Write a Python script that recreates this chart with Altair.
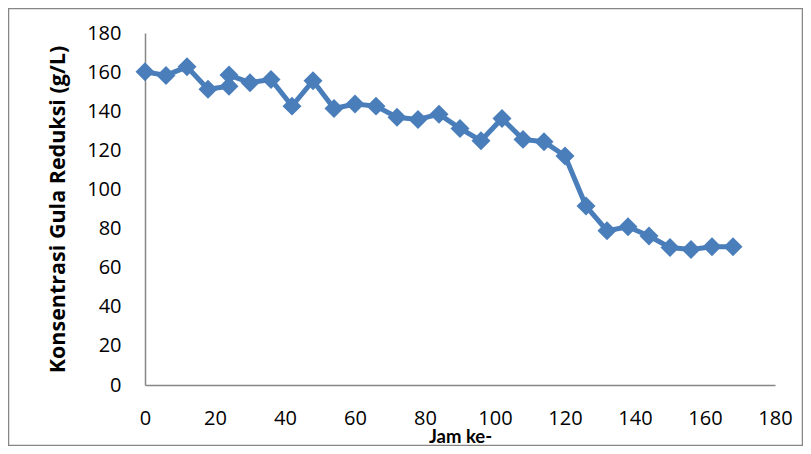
import altair as alt
import pandas as pd

jam = [0, 6, 12, 18, 24, 24, 30, 36, 42, 48, 54, 60, 66, 72, 78, 84, 90, 96,
       102, 108, 114, 120, 126, 132, 138, 144, 150, 156, 162, 168]
konsentrasi = [160.2, 158.3, 162.7, 151.2, 152.8, 158.5, 154.6, 156.2, 142.6, 155.6,
               141.4, 143.7, 142.6, 136.9, 135.8, 138.5, 131.2, 124.9, 136.3, 125.6,
               124.4, 117.1, 91.5, 78.9, 80.9, 76.2, 70.3, 69.3, 70.7, 70.7]

df = pd.DataFrame({"jam": jam, "k": konsentrasi, "i": list(range(len(jam)))})

LFONT = "Open Sans"
TFONT = "Lato"
BLUE = "#4A7EBB"
GRAY = "#868686"

x = alt.X("jam:Q", scale=alt.Scale(domain=[0, 180], nice=False),
          axis=alt.Axis(values=list(range(0, 181, 20)), title="Jam ke-", grid=False,
                        ticks=False, tickSize=0, domainColor=GRAY, domainWidth=1.5,
                        labelFont=LFONT, labelFontSize=20, labelColor="black",
                        labelFlush=False, labelOverlap=False,
                        labelPadding=33, labelBaseline="middle",
                        titleFont=TFONT, titleFontSize=18.5, titleFontWeight="bold",
                        titleColor="black", titleY=51, titleBaseline="middle"))
y = alt.Y("k:Q", scale=alt.Scale(domain=[0, 180], nice=False),
          axis=alt.Axis(values=list(range(0, 181, 20)), title="Konsentrasi Gula Reduksi (g/L)",
                        grid=False, ticks=False, tickSize=0, domainColor=GRAY, domainWidth=1.5,
                        labelFont=LFONT, labelFontSize=20, labelColor="black", labelPadding=24,
                        labelFlush=False, labelOverlap=False,
                        titleFont=LFONT, titleFontSize=21.5, titleFontWeight="bold",
                        titleColor="black", titleX=-87, titleY=176, titleAngle=-90,
                        titleAlign="center", titleBaseline="middle"))

line = alt.Chart(df).mark_line(color=BLUE, strokeWidth=5).encode(x=x, y=y, order="i:Q")
pts = alt.Chart(df).mark_point(shape="diamond", filled=True, size=360, color=BLUE,
                               opacity=1).encode(x=x, y=y)

border = alt.Chart(pd.DataFrame({"a": [0]})).mark_rect(
    fill=None, stroke=GRAY, strokeWidth=1.5).encode(
    x=alt.value(-136.5), x2=alt.value(657.5), y=alt.value(-24.5), y2=alt.value(412.5))

chart = alt.layer(border, line, pts).properties(
    width=630, height=352,
    padding={"left": 137, "top": 25, "right": 28, "bottom": 61},
    autosize=alt.AutoSizeParams(type="none"),
).configure_view(stroke=None)

chart.save("out.html", embed_options={"renderer": "svg", "actions": False})
